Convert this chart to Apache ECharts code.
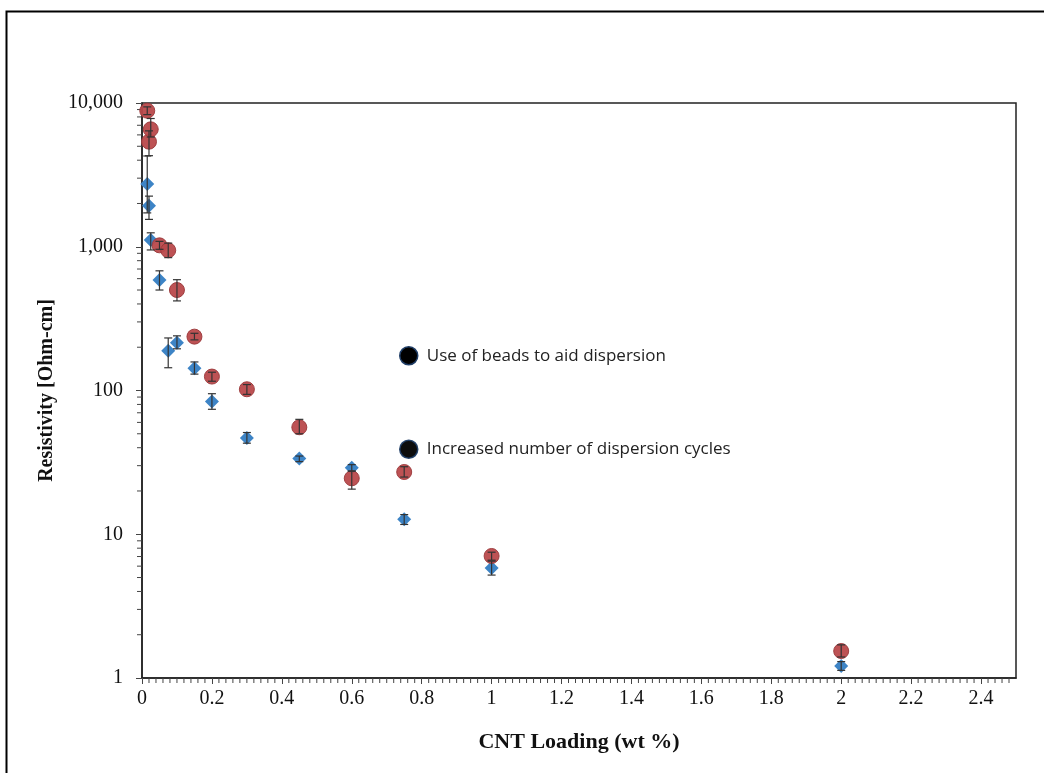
<!DOCTYPE html>
<html>
<head>
<meta charset="utf-8">
<script src="https://cdn.jsdelivr.net/npm/echarts@6/dist/echarts.min.js"></script>
<style>
html,body{margin:0;padding:0;background:#fff;}
#chart{width:1044px;height:773px;}
</style>
</head>
<body>
<div id="chart"></div>
<script>
// CNT loading (wt %)
const loadings = [0.015, 0.02, 0.025, 0.05, 0.075, 0.1, 0.15, 0.2, 0.3, 0.45, 0.6, 0.75, 1, 2];
// Blue diamonds: resistivity and error range
const blueValues = [2733, 1931, 1114, 587, 189, 215, 143, 84, 46.7, 33.6, 29, 12.7, 5.82, 1.21];
const blueLow    = [1720, 1550, 950, 500, 144, 195, 130, 74, 43, 32, 27.5, 11.7, 5.2, 1.13];
const blueHigh   = [4280, 2250, 1250, 680, 232, 240, 158, 95, 51, 35, 30.5, 13.7, 6.5, 1.3];
// Red circles: resistivity and error range
const redValues = [8840, 5380, 6560, 1023, 945, 500, 237, 125, 102, 55.5, 24.5, 27.1, 7.06, 1.54];
const redLow    = [8300, 4300, 5800, 960, 840, 420, 225, 116, 94, 50, 20.6, 25, 6.6, 1.4];
const redHigh   = [9400, 6400, 7800, 1090, 1060, 590, 250, 134, 110, 63, 27.5, 29.5, 7.5, 1.7];

const seriesNames = ['Use of beads to aid dispersion', 'Increased number of dispersion cycles'];
const xTickLabels = ['0', '0.2', '0.4', '0.6', '0.8', '1', '1.2', '1.4', '1.6', '1.8', '2', '2.2', '2.4'];
const yTickLabels = {1: '1', 10: '10', 100: '100', 1000: '1,000', 10000: '10,000'};

// axis decoration: minor tick positions
const yMinor = [];
for (let k = 0; k < 4; k++) for (let m = 2; m <= 9; m++) yMinor.push(m * Math.pow(10, k));
const xMinor = [];
for (let i = 1; i < 125; i++) if (i % 10 !== 0) xMinor.push(+(i * 0.02).toFixed(2));

const serif = '"Liberation Serif", "Times New Roman", serif';
const chart = echarts.init(document.getElementById('chart'), null, {renderer: 'canvas'});

function errItem(params, api) {
  const x = api.value(0);
  const p0 = api.coord([x, api.value(1)]);
  const p1 = api.coord([x, api.value(2)]);
  const cw = 4;
  const st = {stroke: '#333', lineWidth: 1.2};
  return {
    type: 'group',
    children: [
      {type: 'line', shape: {x1: p0[0], y1: p0[1], x2: p1[0], y2: p1[1]}, style: st},
      {type: 'line', shape: {x1: p0[0] - cw, y1: p0[1], x2: p0[0] + cw, y2: p0[1]}, style: st},
      {type: 'line', shape: {x1: p1[0] - cw, y1: p1[1], x2: p1[0] + cw, y2: p1[1]}, style: st}
    ]
  };
}

chart.setOption({
  animation: false,
  backgroundColor: '#fff',
  graphic: [{
    type: 'rect', left: 4, top: 9, shape: {width: 1200, height: 900},
    style: {fill: 'none', stroke: '#000', lineWidth: 2}, silent: true
  }],
  grid: {left: 142, top: 103, right: 28, bottom: 95, show: true, borderColor: '#222', borderWidth: 1.5, backgroundColor: 'transparent'},
  legend: {
    orient: 'vertical', left: 394, top: 341, itemGap: 74, itemWidth: 20, itemHeight: 18,
    icon: 'circle',
    textStyle: {fontFamily: '"Open Sans", "Noto Sans", sans-serif', fontSize: 17, color: '#222', padding: [0, 0, 0, 3]},
    data: [
      {name: seriesNames[0], icon: 'circle', itemStyle: {color: '#000', borderColor: '#1f3d66', borderWidth: 1.5}},
      {name: seriesNames[1], icon: 'circle', itemStyle: {color: '#000', borderColor: '#1f3d66', borderWidth: 1.5}}
    ]
  },
  xAxis: {
    type: 'value', min: 0, max: 2.5, interval: 0.2,
    name: 'CNT Loading (wt %)', nameLocation: 'middle', nameGap: 53,
    nameTextStyle: {fontFamily: serif, fontWeight: 'bold', fontSize: 22, color: '#111'},
    axisLine: {show: true, lineStyle: {color: '#222', width: 1.5}},
    axisTick: {show: true, inside: false, length: 6, lineStyle: {color: '#444'}},
    axisLabel: {fontFamily: serif, fontSize: 20, color: '#111', margin: 11, showMaxLabel: false,
      formatter: v => { const i = Math.round(v / 0.2); return Math.abs(v - i * 0.2) < 1e-6 && i < xTickLabels.length ? xTickLabels[i] : ''; }},
    splitLine: {show: false}
  },
  yAxis: {
    type: 'log', min: 1, max: 10000, logBase: 10,
    name: 'Resistivity [Ohm-cm]', nameLocation: 'middle', nameGap: 85,
    nameTextStyle: {fontFamily: serif, fontWeight: 'bold', fontSize: 20, color: '#111'},
    axisLine: {show: true, lineStyle: {color: '#222', width: 1.5}},
    axisTick: {show: true, inside: false, length: 6, lineStyle: {color: '#444'}},
    axisLabel: {fontFamily: serif, fontSize: 20, color: '#111', margin: 19,
      formatter: v => yTickLabels[Math.round(v)] || ''},
    splitLine: {show: false}
  },
  series: [
    {
      name: 'yMinorTicks', type: 'custom', silent: true, clip: false,
      data: yMinor.map(v => [0, v]),
      renderItem: (params, api) => {
        const p = api.coord([0, api.value(1)]);
        return {type: 'line', shape: {x1: p[0] - 5, y1: p[1], x2: p[0], y2: p[1]}, style: {stroke: '#444', lineWidth: 1}};
      }
    },
    {
      name: 'xMinorTicks', type: 'custom', silent: true, clip: false,
      data: xMinor.map(v => [v, 1]),
      renderItem: (params, api) => {
        const p = api.coord([api.value(0), 1]);
        return {type: 'line', shape: {x1: p[0], y1: p[1], x2: p[0], y2: p[1] + 5}, style: {stroke: '#444', lineWidth: 1}};
      }
    },
    {
      name: seriesNames[0], type: 'scatter', symbol: 'diamond', symbolSize: [14, 14],
      itemStyle: {color: '#3d84c6', opacity: 1},
      data: loadings.map((x, i) => [x, blueValues[i]]), z: 3
    },
    {
      name: seriesNames[1], type: 'scatter', symbol: 'circle', symbolSize: 15,
      itemStyle: {color: '#b9494b', borderColor: '#9c3a3c', borderWidth: 1, opacity: 0.95},
      data: loadings.map((x, i) => [x, redValues[i]]), z: 3
    },
    {
      name: 'blueErr', type: 'custom', renderItem: errItem, silent: true, z: 4,
      data: loadings.map((x, i) => [x, blueLow[i], blueHigh[i]])
    },
    {
      name: 'redErr', type: 'custom', renderItem: errItem, silent: true, z: 4,
      data: loadings.map((x, i) => [x, redLow[i], redHigh[i]])
    }
  ]
});
</script>
</body>
</html>
